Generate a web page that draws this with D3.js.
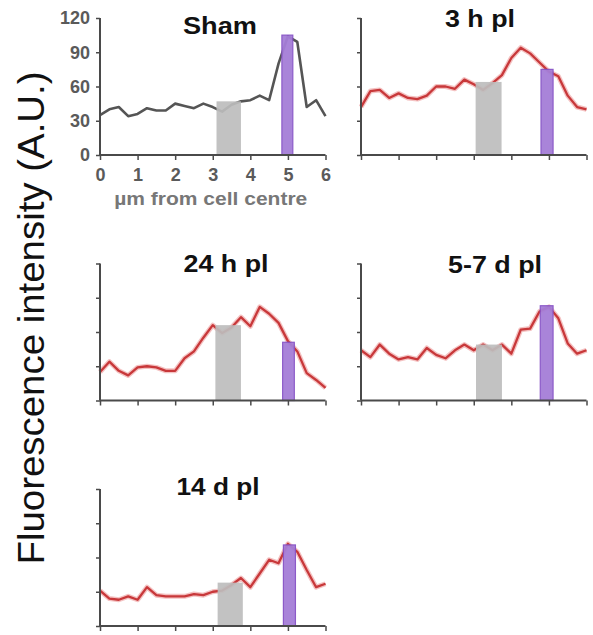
<!DOCTYPE html>
<html>
<head>
<meta charset="utf-8">
<script src="https://cdn.jsdelivr.net/npm/d3@7"></script>
<style>
    body { margin: 0; background: #fff; }
    svg { display: block; }
</style>
</head>
<body>
<div class="chart"></div>
<script>
'use strict';

// distance from cell centre (um), one sample every quarter micron
var distances = [0, 0.25, 0.5, 0.75, 1, 1.25, 1.5, 1.75, 2, 2.25, 2.5, 2.75, 3,
                 3.25, 3.5, 3.75, 4, 4.25, 4.5, 4.75, 5, 5.25, 5.5, 5.75, 6];

var panelNames = ['Sham', '3 h pl', '24 h pl', '5-7 d pl', '14 d pl'];

var shamValues = [35, 40, 42, 34, 36, 41, 39, 39, 45, 43, 41, 45, 42,
                  38, 44, 47, 48, 52, 48, 80, 104, 99, 42, 48, 34];
var h3Values   = [42, 56, 57, 50, 54, 50, 49, 52, 60, 60, 58, 66, 62,
                  57, 63, 70, 85, 94, 89, 81, 73, 69, 52, 42, 40];
var h24Values  = [25, 34, 26, 22, 29, 30, 29, 26, 26, 37, 43, 55, 66,
                  59, 64, 73, 65, 82, 76, 68, 52, 43, 24, 18, 11];
var d57Values  = [44, 38, 49, 41, 36, 38, 36, 46, 40, 37, 44, 49, 44,
                  49, 44, 49, 41, 62, 63, 78, 82, 72, 50, 41, 44];
var d14Values  = [31, 24, 23, 26, 23, 34, 27, 26, 26, 26, 28, 27, 30,
                  31, 36, 42, 34, 46, 58, 55, 72, 65, 49, 34, 37];

// grey (cytoplasm) and purple (membrane) sampling windows: start, end, height
var greyStart  = [3.1, 3.05, 3.07, 3.06, 3.13];
var greyEnd    = [3.75, 3.74, 3.75, 3.75, 3.8];
var greyHeight = [47, 64, 66, 49, 38];
var purpleStart  = [4.84, 4.79, 4.86, 4.77, 4.88];
var purpleEnd    = [5.13, 5.11, 5.17, 5.11, 5.2];
var purpleHeight = [105, 75, 51, 83, 71];

var yTicks = [0, 30, 60, 90, 120];
var xTicks = [0, 1, 2, 3, 4, 5, 6];

var seriesList = [shamValues, h3Values, h24Values, d57Values, d14Values];

// where each panel sits on the page
var panelLeft   = [100, 361, 100, 361, 100];
var panelBottom = [155, 155, 400.5, 400.5, 626];
var panelTitle  = [{x: 220, y: 34, w: 74}, {x: 480, y: 27, w: 70},
                   {x: 226, y: 272, w: 85}, {x: 495, y: 273, w: 94},
                   {x: 218, y: 495, w: 83}];

var width = 593;
var height = 635;
var plotW = 225.5;
var plotH = 137;

var svg = d3.select('.chart')
    .append('svg')
    .attr('width', width)
    .attr('height', height)
    .style('font-family', 'Arial, "Liberation Sans", sans-serif');

// shared y label
svg.append('text')
    .attr('transform', 'translate(44,318) rotate(-90)')
    .attr('text-anchor', 'middle')
    .attr('font-size', 36)
    .attr('textLength', 493)
    .attr('lengthAdjust', 'spacingAndGlyphs')
    .attr('fill', '#111')
    .text('Fluorescence intensity (A.U.)');

seriesList.forEach(function (values, i) {
    var x = d3.scaleLinear().domain([0, 6]).range([panelLeft[i], panelLeft[i] + plotW]);
    var y = d3.scaleLinear().domain([0, 120]).range([panelBottom[i], panelBottom[i] - plotH]);
    var isSham = i === 0;
    var g = svg.append('g');

    // the trace
    var line = d3.line()
        .x(function (d, k) { return x(distances[k]); })
        .y(function (d) { return y(d); });

    if (!isSham) {
        g.append('path')
            .datum(values)
            .attr('d', line)
            .attr('fill', 'none')
            .attr('stroke', '#f0a8a8')
            .attr('stroke-width', 5)
            .attr('stroke-linejoin', 'round')
            .attr('opacity', 0.7);
    }
    g.append('path')
        .datum(values)
        .attr('d', line)
        .attr('fill', 'none')
        .attr('stroke', isSham ? '#555' : '#c8383a')
        .attr('stroke-width', isSham ? 2.6 : 2.3)
        .attr('stroke-linejoin', 'round');

    // sampling windows drawn over the trace
    g.append('rect')
        .attr('x', x(greyStart[i]))
        .attr('y', y(greyHeight[i]))
        .attr('width', x(greyEnd[i]) - x(greyStart[i]))
        .attr('height', y(0) - y(greyHeight[i]))
        .attr('fill', '#bdbdbd')
        .attr('opacity', 0.92);

    g.append('rect')
        .attr('x', x(purpleStart[i]))
        .attr('y', y(purpleHeight[i]))
        .attr('width', x(purpleEnd[i]) - x(purpleStart[i]))
        .attr('height', y(0) - y(purpleHeight[i]))
        .attr('fill', '#a57ed8')
        .attr('stroke', '#8652c6')
        .attr('stroke-width', 1.2)
        .attr('opacity', 0.95);

    // axes
    var yAxis = d3.axisLeft(y).tickValues(yTicks).tickSize(4).tickPadding(6)
        .tickFormat(isSham ? d3.format('d') : '');
    var xAxis = d3.axisBottom(x).tickValues(xTicks).tickSize(5).tickPadding(8)
        .tickFormat(isSham ? d3.format('d') : '');

    var ya = g.append('g')
        .attr('transform', 'translate(' + panelLeft[i] + ',0)')
        .call(yAxis);
    var xa = g.append('g')
        .attr('transform', 'translate(0,' + panelBottom[i] + ')')
        .call(xAxis);

    [ya, xa].forEach(function (a) {
        a.select('.domain').attr('stroke', '#4a4a4a').attr('stroke-width', 2);
        a.selectAll('.tick line').attr('stroke', '#4a4a4a').attr('stroke-width', 1.5);
        a.selectAll('.tick text')
            .attr('font-size', 18)
            .attr('font-weight', 'bold')
            .attr('fill', '#5a5a5a');
    });
    ya.select('.domain').attr('d', 'M0,' + y(0) + 'V' + y(120));
    xa.select('.domain').attr('d', 'M' + x(0) + ',0H' + x(6));

    if (isSham) {
        g.append('text')
            .attr('x', x(3) - 2)
            .attr('y', 205)
            .attr('text-anchor', 'middle')
            .attr('font-size', 19)
            .attr('font-weight', 'bold')
            .attr('fill', '#777')
            .attr('textLength', 193)
            .attr('lengthAdjust', 'spacingAndGlyphs')
            .text('\u00b5m from cell centre');
    }

    g.append('text')
        .attr('x', panelTitle[i].x)
        .attr('y', panelTitle[i].y)
        .attr('text-anchor', 'middle')
        .attr('font-size', 24)
        .attr('font-weight', 'bold')
        .attr('fill', '#111')
        .attr('textLength', panelTitle[i].w)
        .attr('lengthAdjust', 'spacingAndGlyphs')
        .text(panelNames[i]);
});
</script>
</body>
</html>
